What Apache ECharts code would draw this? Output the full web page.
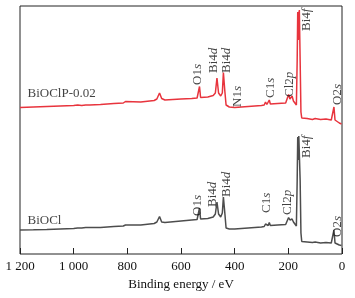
<!DOCTYPE html>
<html>
<head>
<meta charset="utf-8">
<script src="https://cdn.jsdelivr.net/npm/echarts@6/dist/echarts.min.js"></script>
<style>html,body{margin:0;padding:0;background:#fff;}#c{width:355px;height:298px;}</style>
</head>
<body>
<div id="c"></div>
<script>
// Binding energy (eV) sample points
const energy = [1200,1150,1100,1050,1000,985,978,970,955,948,940,900,850,815,807,800,750,700,690,680,672,660,600,560,540,535,531,527,500,480,472,466,460,452,446,442,437,432,420,400,350,300,290,285,280,275,271,267,240,210,204,199,194,190,186,181,175,170,167,165,163,161,159,156,153,150,130,110,100,80,60,40,34,30,26,20,10,2];
// Intensity (a.u., offset) – BiOClP-0.02
const intensityBiOClP = [146.5,147,147.5,148,148.5,149,150.5,148.5,149,150,149,149.5,150.5,151,152.5,151,152,153.5,155,161,155.5,154,155,155.5,156,157,167.5,156.5,157,158.5,161,176,161,158,161,181.5,164,149,147,146.5,147.5,148.5,149,152,149.5,150,154,150,150.5,151,153,159.5,155,156,158,153,151,149,194,242,214,240,244,194,142,136,135.5,134.5,135.5,134.5,135,134,136,147,134,132,131,130];
// Intensity (a.u., offset) – BiOCl
const intensityBiOCl = [24,24.2,24.5,25,25.5,26,27.5,26,26.5,27,26.5,26.5,27.5,28,29,28,29,30.5,32,37.5,32,31.5,33,34,34.5,35,46,35,35.5,37,40,52,40,37,41,57,42,26,25,25,26,27,27.5,30,28,28.5,31.5,28.5,29,29.5,31,36.5,34,33.5,35,32,30,28,74,117,94,118,120,74,21,12.5,12,11.5,12,11,11.5,11,12,24,11,10,9,8.5];

// Peak annotations: name, energy, intensity at label base
const peakNamesP = ['O1s','Bi4d','Bi4d','N1s','C1s','Cl2p','Bi4f','O2s'];
const peakEnergyP = [539,479,430,391,266,196,132,17];
const peakLevelP = [169,181,181,147,156,157,223,149];
const peakNamesC = ['O1s','Bi4d','Bi4d','C1s','Cl2p','Bi4f','O2s'];
const peakEnergyC = [539,483,430,281,203,132,17];
const peakLevelC = [38,47,57,41,39,96,17];

// Sample names
const sampleNames = ['BiOClP-0.02','BiOCl'];
const sampleEnergy = [1172,1172];
const sampleLevel = [160,33];

const xTicks = [0,200,400,600,800,1000,1200];

const FONT = '"Liberation Serif","DejaVu Serif",serif';
const RED = '#e8343d';
const GRAY = '#4d4d4d';

function richName(n){ return n.slice(0,-1) + '{i|' + n.slice(-1) + '}'; }
function peakSeries(names, es, vs){
  return {
    type:'scatter', symbolSize:0, silent:true, z:5,
    data: names.map((n,i)=>({value:[es[i], vs[i]], name:n})),
    label:{
      show:true, position:[0,0], rotate:90, align:'left', verticalAlign:'middle',
      formatter: p => richName(p.name),
      fontFamily: FONT, fontSize:13, color:'#111',
      rich:{ i:{ fontStyle:'italic', fontFamily:FONT, fontSize:13, color:'#111' } }
    }
  };
}

const chart = echarts.init(document.getElementById('c'), null, {renderer:'canvas'});
chart.setOption({
  animation:false,
  grid:{ left:20, top:6, width:322, height:248, show:true, borderColor:'#222', borderWidth:1, backgroundColor:'transparent' },
  xAxis:{
    type:'value', min:0, max:1200, interval:200, inverse:true,
    axisLine:{show:false},
    axisTick:{show:true, inside:true, length:6, lineStyle:{color:'#222', width:1}},
    splitLine:{show:false},
    axisLabel:{ margin:6, fontFamily:FONT, fontSize:13, color:'#111',
      formatter: v => (xTicks.indexOf(v) >= 0 && v >= 1000) ? String(v).replace(/(\d)(\d{3})$/, '$1 $2') : String(v) },
    name:'Binding energy / eV', nameLocation:'middle', nameGap:20,
    nameTextStyle:{ fontFamily:FONT, fontSize:13, color:'#111' }
  },
  yAxis:{ type:'value', min:0, max:248, show:false },
  series:[
    { type:'line', data: energy.map((e,i)=>[e, intensityBiOClP[i]]), showSymbol:false, symbol:'none',
      lineStyle:{color:RED, width:1.5}, z:3 },
    { type:'line', data: energy.map((e,i)=>[e, intensityBiOCl[i]]), showSymbol:false, symbol:'none',
      lineStyle:{color:GRAY, width:1.5}, z:3 },
    peakSeries(peakNamesP, peakEnergyP, peakLevelP),
    peakSeries(peakNamesC, peakEnergyC, peakLevelC),
    { type:'scatter', symbolSize:0, silent:true,
      data: sampleNames.map((n,i)=>({value:[sampleEnergy[i], sampleLevel[i]], name:n})),
      label:{ show:true, position:[0,0], align:'left', verticalAlign:'middle', formatter: p=>p.name,
        fontFamily:FONT, fontSize:13, color:'#111' } }
  ]
});
</script>
</body>
</html>
